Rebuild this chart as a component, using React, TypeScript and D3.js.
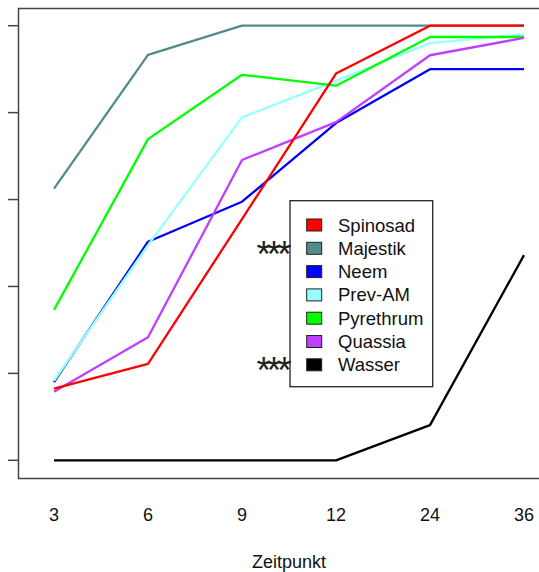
import React from "react";
import * as d3 from "d3";

const categories = ["3", "6", "9", "12", "24", "36"];
const yTicks = [0, 20, 40, 60, 80, 100];

const spinosad = [16.5, 22.2, 55.5, 89, 100, 100];
const majestik = [62.5, 93.3, 100, 100, 100, 100];
const neem = [18, 50.3, 59.5, 77.6, 90, 90];
const prevAM = [18.3, 49.5, 78.9, 87.3, 96, 98];
const pyrethrum = [34.6, 73.9, 88.7, 86.2, 97.4, 97.4];
const quassia = [15.8, 28.3, 69.1, 77.8, 93.2, 97.2];
const wasser = [0, 0, 0, 0, 8.1, 47.2];

const legendNames = ["Spinosad", "Majestik", "Neem", "Prev-AM", "Pyrethrum", "Quassia", "Wasser"];
const legendColors = ["#FF0000", "#528B8B", "#0000FF", "#97FFFF", "#00FF00", "#BF3EFF", "#000000"];
const starredRows = ["Majestik", "Wasser"];

const xLabel = "Zeitpunkt";

export default function App() {
  const x = d3.scalePoint<string>().domain(categories).range([54, 524]);
  const y = d3.scaleLinear().domain([0, 100]).range([460.3, 25.7]);
  const line = d3
    .line<number>()
    .x((_, i) => x(categories[i]) as number)
    .y((d) => y(d));

  const series = [
    { name: "Majestik", values: majestik, color: legendColors[1] },
    { name: "Neem", values: neem, color: legendColors[2] },
    { name: "Prev-AM", values: prevAM, color: legendColors[3] },
    { name: "Pyrethrum", values: pyrethrum, color: legendColors[4] },
    { name: "Quassia", values: quassia, color: legendColors[5] },
    { name: "Wasser", values: wasser, color: legendColors[6] },
    { name: "Spinosad", values: spinosad, color: legendColors[0] },
  ];

  const font = "'Liberation Sans', Arial, sans-serif";
  const legX = 290;
  const legY = 200.7;
  const legW = 142.7;
  const legH = 186;
  const rowY0 = 225;
  const rowStep = 23.3;

  return (
    <svg
      width={539}
      height={572}
      style={{ position: "absolute", left: 0, top: 0, display: "block", background: "#fff" }}
      fontFamily={font}
    >
      <rect x={0} y={0} width={539} height={572} fill="#fff" />
      {series.map((s) => (
        <path key={s.name} d={line(s.values) || ""} fill="none" stroke={s.color} strokeWidth={2.3} strokeLinejoin="round" />
      ))}
      <rect x={18.5} y={8.5} width={560} height={470} fill="none" stroke="#444" strokeWidth={1.5} />
      {yTicks.map((t) => (
        <line key={t} x1={8} x2={18.5} y1={y(t)} y2={y(t)} stroke="#444" strokeWidth={1.5} />
      ))}
      {categories.map((c) => (
        <text key={c} x={x(c)} y={521} textAnchor="middle" fontSize={18} fill="#111">
          {c}
        </text>
      ))}
      <text x={289} y={568} textAnchor="middle" fontSize={18} fill="#111">
        {xLabel}
      </text>
      <rect x={legX} y={legY} width={legW} height={legH} fill="#fff" stroke="#222" strokeWidth={1.3} />
      {legendNames.map((n, i) => {
        const cy = rowY0 + i * rowStep;
        return (
          <g key={n}>
            <rect x={306.7} y={cy - 6} width={15} height={12} fill={legendColors[i]} stroke="#222" strokeWidth={1} />
            <text x={338} y={cy + 6.5} fontSize={18.5} fill="#111">
              {n}
            </text>
            {starredRows.includes(n) && (
              <text x={272} y={cy + 18.5} textAnchor="middle" fontSize={37} letterSpacing={-4} fill="#222">
                ***
              </text>
            )}
          </g>
        );
      })}
    </svg>
  );
}
